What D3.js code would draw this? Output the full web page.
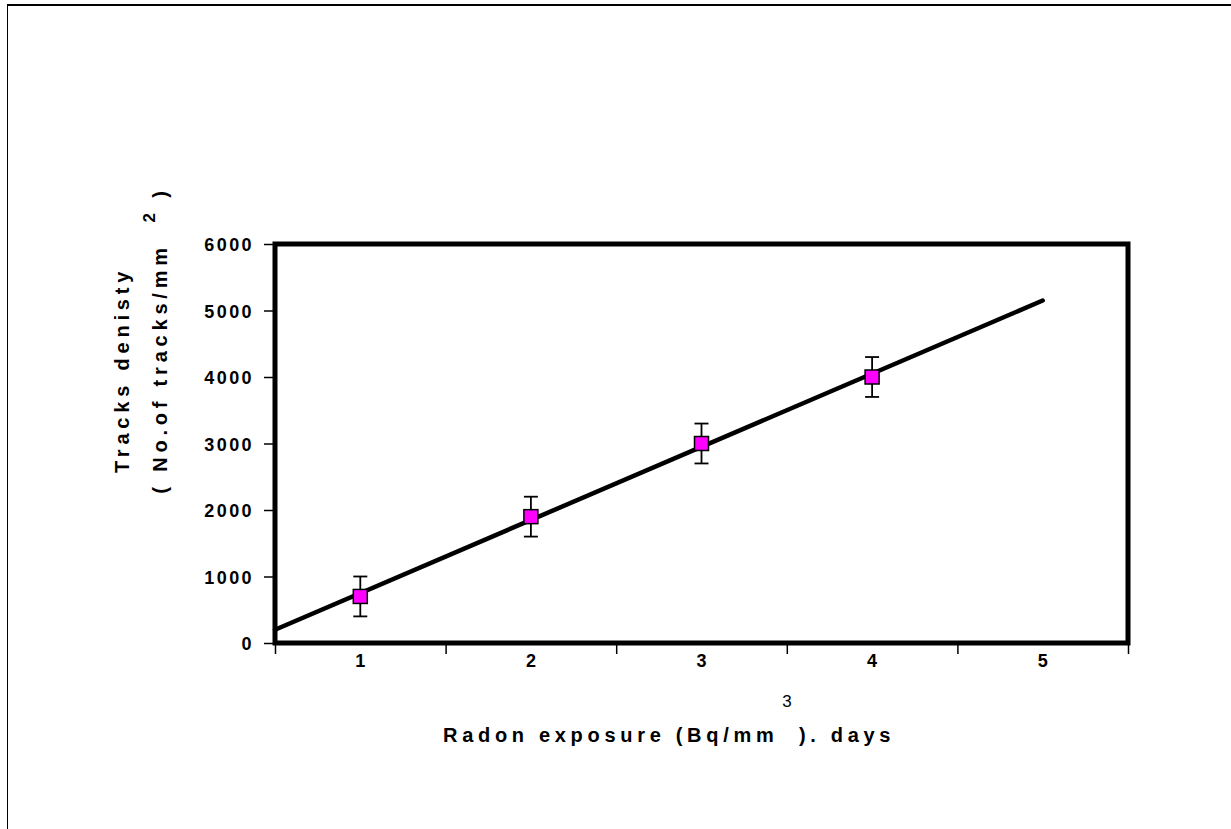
<!DOCTYPE html>
<html>
<head>
<meta charset="utf-8">
<script src="https://cdn.jsdelivr.net/npm/d3@7"></script>
<style>
  html, body { margin: 0; padding: 0; background: #fff; }
  svg { display: block; }
  text { font-family: "Liberation Sans", Arial, sans-serif; fill: #000; }
</style>
</head>
<body>
<svg id="chart"></svg>
<script>
// Radon exposure (days) vs track density
const exposure = [1, 2, 3, 4];
const density  = [700, 1900, 3000, 4000];
const errors   = [300, 300, 300, 300];
const xTickLabels = ['1', '2', '3', '4', '5'];
const yTickValues = [0, 1000, 2000, 3000, 4000, 5000, 6000];

const W = 1231, H = 829;
const box = { left: 275, right: 1128, top: 244, bottom: 643 };

const svg = d3.select('#chart').attr('width', W).attr('height', H);

// outer frame (cut off at right / bottom like the original)
svg.append('line').attr('x1', 7).attr('y1', 5).attr('x2', W).attr('y2', 5)
  .attr('stroke', '#000').attr('stroke-width', 2);
svg.append('line').attr('x1', 7.5).attr('y1', 4).attr('x2', 7.5).attr('y2', H)
  .attr('stroke', '#000').attr('stroke-width', 1);

const x = d3.scaleLinear().domain([0.5, 5.5]).range([box.left, box.right]);
const y = d3.scaleLinear().domain([0, 6000]).range([box.bottom, box.top]);

// y axis
const yAxis = svg.append('g')
  .attr('transform', `translate(${box.left - 2},0)`)
  .call(d3.axisLeft(y).tickValues(yTickValues).tickSize(9).tickPadding(10).tickFormat(d3.format('d')));
yAxis.select('.domain').remove();
yAxis.selectAll('line').attr('stroke', '#000').attr('stroke-width', 1.5);
yAxis.selectAll('text')
  .attr('font-size', 18).attr('font-weight', 'bold')
  .attr('letter-spacing', '2.4px').attr('dy', '0.38em')
  .attr('font-family', '"Liberation Sans", Arial, sans-serif');

// x axis: tick marks at category boundaries, labels at centres
const xAxis = svg.append('g')
  .attr('transform', `translate(0,${box.bottom + 2})`)
  .call(d3.axisBottom(x).tickValues(d3.range(0.5, 5.6, 1)).tickSize(9).tickFormat(''));
xAxis.select('.domain').remove();
xAxis.selectAll('line').attr('stroke', '#000').attr('stroke-width', 1.5);

svg.append('g').selectAll('text')
  .data(xTickLabels)
  .join('text')
  .attr('x', (d, i) => x(i + 1))
  .attr('y', 667)
  .attr('text-anchor', 'middle')
  .attr('font-size', 18).attr('font-weight', 'bold')
  .text(d => d);

// plot border
svg.append('rect')
  .attr('x', box.left).attr('y', box.top)
  .attr('width', box.right - box.left).attr('height', box.bottom - box.top)
  .attr('fill', 'none').attr('stroke', '#000').attr('stroke-width', 5);

// linear trend line from least squares fit
const mx = d3.mean(exposure), my = d3.mean(density);
const slope = d3.sum(exposure, (v, i) => (v - mx) * (density[i] - my)) /
              d3.sum(exposure, v => (v - mx) * (v - mx));
const icpt = my - slope * mx;
const trendX = [0.5, 5];
svg.append('path')
  .datum(trendX)
  .attr('d', d3.line().x(d => x(d)).y(d => y(icpt + slope * d)))
  .attr('fill', 'none').attr('stroke', '#000').attr('stroke-width', 4.5)
  .attr('stroke-linecap', 'round');

// error bars
const pts = exposure.map((v, i) => ({ x: v, y: density[i], e: errors[i] }));
const eb = svg.append('g').attr('stroke', '#000').attr('stroke-width', 1.8);
eb.selectAll('line.v').data(pts).join('line').attr('class', 'v')
  .attr('x1', d => x(d.x)).attr('x2', d => x(d.x))
  .attr('y1', d => y(d.y + d.e)).attr('y2', d => y(d.y - d.e));
eb.selectAll('line.t').data(pts).join('line').attr('class', 't')
  .attr('x1', d => x(d.x) - 7).attr('x2', d => x(d.x) + 7)
  .attr('y1', d => y(d.y + d.e)).attr('y2', d => y(d.y + d.e));
eb.selectAll('line.b').data(pts).join('line').attr('class', 'b')
  .attr('x1', d => x(d.x) - 7).attr('x2', d => x(d.x) + 7)
  .attr('y1', d => y(d.y - d.e)).attr('y2', d => y(d.y - d.e));

// markers
svg.append('g').selectAll('rect').data(pts).join('rect')
  .attr('x', d => x(d.x) - 7).attr('y', d => y(d.y) - 7)
  .attr('width', 14).attr('height', 14)
  .attr('fill', '#ff00ff').attr('stroke', '#000').attr('stroke-width', 1.5);

// x axis title with detached superscript
svg.append('text')
  .attr('x', 443).attr('y', 742)
  .attr('font-size', 20).attr('font-weight', 'bold')
  .attr('letter-spacing', '4.7px')
  .attr('xml:space', 'preserve')
  .text('Radon exposure (Bq/mm  ). days');
svg.append('text')
  .attr('x', 787).attr('y', 707)
  .attr('text-anchor', 'middle')
  .attr('font-size', 17)
  .text('3');

// y axis title, two rotated lines
svg.append('text')
  .attr('transform', 'translate(129,370) rotate(-90)')
  .attr('text-anchor', 'middle')
  .attr('font-size', 20).attr('font-weight', 'bold')
  .attr('letter-spacing', '4.8px')
  .text('Tracks denisty');
const t2 = svg.append('text')
  .attr('transform', 'translate(167,340) rotate(-90)')
  .attr('text-anchor', 'middle')
  .attr('font-size', 20).attr('font-weight', 'bold')
  .attr('letter-spacing', '4.8px')
  .attr('xml:space', 'preserve');
t2.append('tspan').text('( No.of tracks/mm  ');
t2.append('tspan').attr('dy', -12).attr('font-size', 17).text('2');
t2.append('tspan').attr('dy', 12).text(' )');
</script>
</body>
</html>
